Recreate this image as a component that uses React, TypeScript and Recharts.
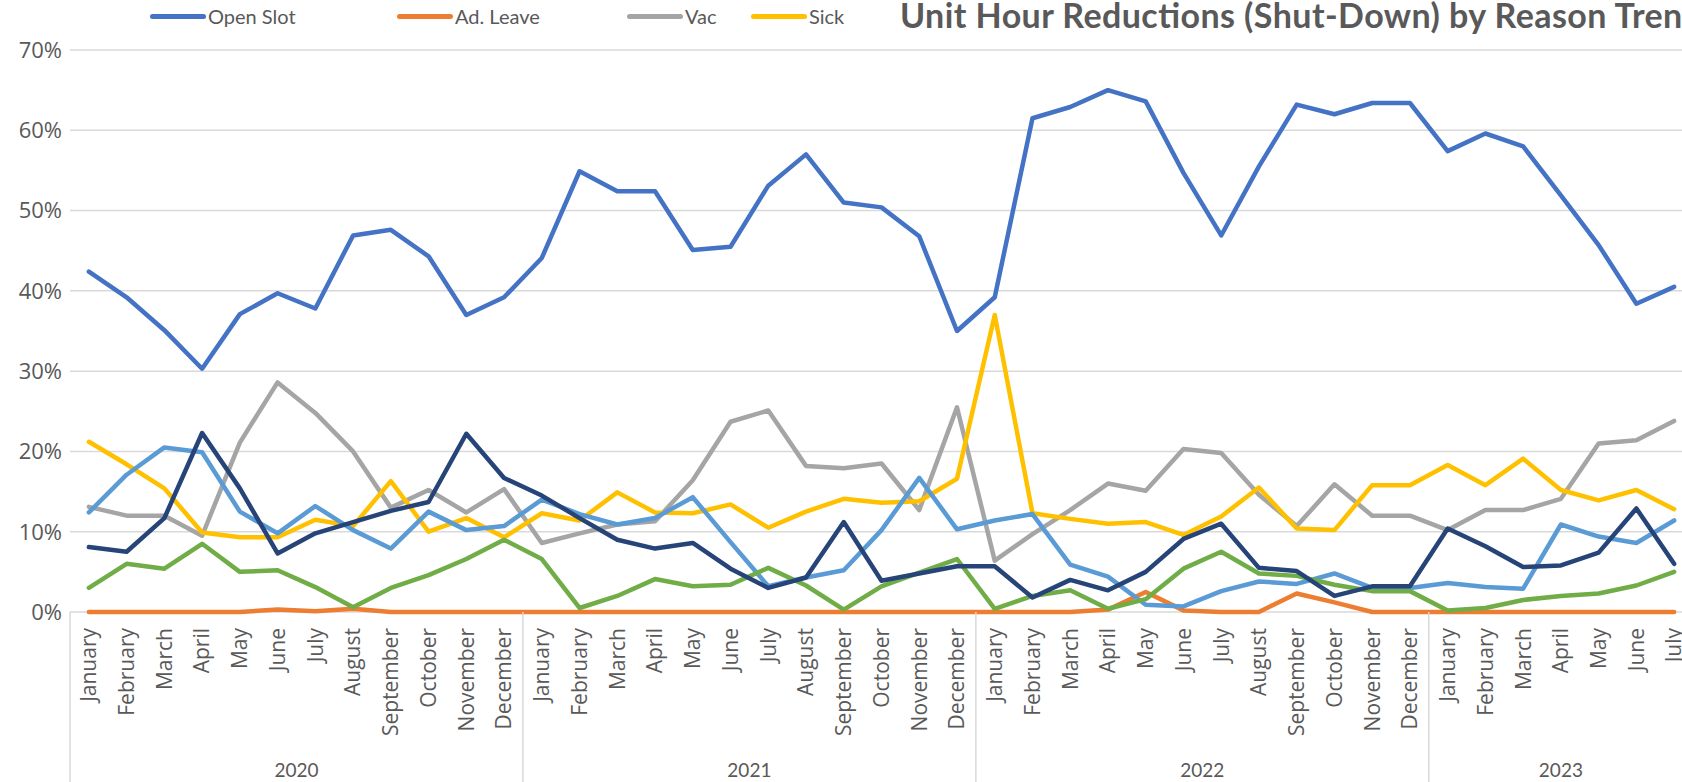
import React from 'react';
import { LineChart, Line, XAxis, YAxis, CartesianGrid } from 'recharts';

const monthNames = [
  'January', 'February', 'March', 'April', 'May', 'June',
  'July', 'August', 'September', 'October', 'November', 'December',
];

// year and how many months of it are in the chart
const years: [string, number][] = [
  ['2020', 12],
  ['2021', 12],
  ['2022', 12],
  ['2023', 7],
];

const yTicks = [0, 10, 20, 30, 40, 50, 60, 70];

// values are percent of unit hours
const openSlot = [
  42.4, 39.2, 35.1, 30.3, 37.1, 39.7, 37.8, 46.9, 47.6, 44.3, 37.0, 39.2,
  44.1, 54.9, 52.4, 52.4, 45.1, 45.5, 53.1, 57.0, 51.0, 50.4, 46.8, 35.0,
  39.2, 61.5, 62.9, 65.0, 63.6, 54.7, 46.9, 55.5, 63.2, 62.0, 63.4, 63.4,
  57.4, 59.6, 58.0, 51.9, 45.7, 38.4, 40.5,
];
const adLeave = [
  0, 0, 0, 0, 0, 0.3, 0.1, 0.4, 0, 0, 0, 0,
  0, 0, 0, 0, 0, 0, 0, 0, 0, 0, 0, 0,
  0, 0, 0, 0.3, 2.5, 0.2, 0, 0, 2.3, 1.2, 0, 0,
  0, 0, 0, 0, 0, 0, 0,
];
const vac = [
  13.1, 12.0, 12.0, 9.5, 21.1, 28.6, 24.8, 20.0, 13.0, 15.2, 12.4, 15.3,
  8.6, 9.8, 10.9, 11.3, 16.4, 23.7, 25.1, 18.2, 17.9, 18.5, 12.7, 25.5,
  6.4, 9.7, 12.7, 16.0, 15.1, 20.3, 19.8, 14.6, 10.7, 15.9, 12.0, 12.0,
  10.2, 12.7, 12.7, 14.1, 21.0, 21.4, 23.8,
];
const sick = [
  21.2, 18.4, 15.4, 9.9, 9.3, 9.3, 11.5, 10.7, 16.3, 10.0, 11.7, 9.3,
  12.3, 11.4, 14.9, 12.4, 12.3, 13.4, 10.5, 12.5, 14.1, 13.6, 13.8, 16.6,
  37.0, 12.3, 11.6, 11.0, 11.2, 9.6, 11.9, 15.5, 10.4, 10.2, 15.8, 15.8,
  18.3, 15.8, 19.1, 15.2, 13.9, 15.2, 12.8,
];
// the last three series sit behind the title in the legend
const series5 = [
  12.4, 17.1, 20.5, 19.9, 12.5, 9.8, 13.2, 10.2, 7.9, 12.5, 10.2, 10.7,
  14.0, 12.2, 10.9, 11.7, 14.3, 8.7, 3.2, 4.3, 5.2, 10.2, 16.7, 10.3,
  11.4, 12.2, 5.9, 4.4, 0.9, 0.7, 2.6, 3.8, 3.5, 4.8, 3.0, 3.0,
  3.6, 3.1, 2.9, 10.9, 9.4, 8.6, 11.4,
];
const series6 = [
  3.0, 6.0, 5.4, 8.5, 5.0, 5.2, 3.1, 0.6, 3.0, 4.6, 6.6, 9.0,
  6.6, 0.5, 2.0, 4.1, 3.2, 3.4, 5.5, 3.3, 0.3, 3.2, 4.9, 6.6,
  0.4, 2.0, 2.7, 0.4, 1.6, 5.4, 7.5, 4.8, 4.5, 3.4, 2.6, 2.6,
  0.2, 0.5, 1.5, 2.0, 2.3, 3.3, 5.0,
];
const series7 = [
  8.1, 7.5, 11.7, 22.3, 15.4, 7.3, 9.8, 11.2, 12.6, 13.7, 22.2, 16.7,
  14.5, 11.7, 9.0, 7.9, 8.6, 5.4, 3.0, 4.3, 11.2, 3.9, 4.8, 5.7,
  5.7, 1.8, 4.0, 2.7, 5.0, 9.1, 11.0, 5.5, 5.1, 2.0, 3.2, 3.2,
  10.4, 8.2, 5.6, 5.8, 7.4, 12.9, 6.0,
];

const seriesList = [
  { key: 'openSlot', name: 'Open Slot', color: '#4472C4', values: openSlot, legendX: 150 },
  { key: 'adLeave', name: 'Ad. Leave', color: '#ED7D31', values: adLeave, legendX: 397 },
  { key: 'vac', name: 'Vac', color: '#A5A5A5', values: vac, legendX: 627 },
  { key: 'sick', name: 'Sick', color: '#FFC000', values: sick, legendX: 751 },
  { key: 's5', name: 's5', color: '#5B9BD5', values: series5, legendX: null },
  { key: 's6', name: 's6', color: '#70AD47', values: series6, legendX: null },
  { key: 's7', name: 's7', color: '#264478', values: series7, legendX: null },
];

const categories: { month: string; year: string }[] = [];
years.forEach(([year, count]) => {
  for (let m = 0; m < count; m++) categories.push({ month: monthNames[m], year });
});

const data = categories.map((c, i) => {
  const row: { [k: string]: string | number } = { name: `${c.month} ${c.year}` };
  seriesList.forEach((s) => {
    row[s.key] = s.values[i];
  });
  return row;
});

const TEXT = '#595959';
const GRID = '#D9D9D9';
const CHART_W = 1693;
const Y_W = 70;
const AXIS_GAP = 16;
const AXIS_HEIGHT = 170;
const HALF_BAND = (CHART_W - Y_W) / categories.length / 2;

const MonthTick = (props: any) => {
  const { x, y, payload } = props;
  const i = payload.index;
  const axisY = y - AXIS_GAP;
  const cat = categories[i];
  const parts: React.ReactNode[] = [];

  if (cat.month === 'January') {
    const left = x - HALF_BAND;
    const count = years.find((yy) => yy[0] === cat.year)![1];
    parts.push(
      <line key="sep" x1={left} x2={left} y1={axisY} y2={axisY + AXIS_HEIGHT} stroke={GRID} strokeWidth={1.5} />
    );
    parts.push(
      <text
        key="year"
        x={left + count * HALF_BAND}
        y={axisY + 157}
        textAnchor="middle"
        dominantBaseline="central"
        fill={TEXT}
        fontSize={19}
        fontFamily="Lato, sans-serif"
      >
        {cat.year}
      </text>
    );
  }

  parts.push(
    <text
      key="m"
      transform={`translate(${x},${y}) rotate(-90)`}
      textAnchor="end"
      dy="0.35em"
      fill={TEXT}
      fontSize={21}
      fontFamily="'Open Sans', sans-serif"
    >
      {cat.month}
    </text>
  );
  return <g>{parts}</g>;
};

const App = () => {
  return (
    <div style={{ position: 'absolute', left: 0, top: 0, width: 1682, height: 782, overflow: 'hidden', background: '#fff' }}>
      <LineChart width={CHART_W} height={782} data={data} margin={{ top: 50, right: 0, bottom: 0, left: 0 }}>
        {/* the grid's 0% line doubles as the axis line, so it stays under the series */}
        <CartesianGrid vertical={false} stroke={GRID} strokeWidth={1.5} />
        <XAxis
          dataKey="name"
          scale="band"
          interval={0}
          height={AXIS_HEIGHT}
          tickLine={false}
          tickSize={0}
          tickMargin={AXIS_GAP}
          axisLine={false}
          tick={<MonthTick />}
        />
        <YAxis
          width={Y_W}
          domain={[0, 70]}
          ticks={yTicks}
          interval={0}
          axisLine={false}
          tickLine={false}
          tickSize={0}
          tickMargin={8}
          tickFormatter={(v: number) => `${v}%`}
          tick={{ fill: TEXT, fontSize: 22, fontFamily: "'Open Sans', sans-serif" }}
        />
        {seriesList.map((s) => (
          <Line
            key={s.key}
            type="linear"
            dataKey={s.key}
            name={s.name}
            stroke={s.color}
            strokeWidth={4.5}
            strokeLinejoin="round"
            strokeLinecap="round"
            dot={false}
            activeDot={false}
            isAnimationActive={false}
          />
        ))}
      </LineChart>

      {/* legend: only the four entries the title does not cover */}
      {seriesList.filter((s) => s.legendX !== null).map((s) => (
        <div
          key={s.key}
          style={{
            position: 'absolute', left: s.legendX as number, top: 0, height: 32, display: 'flex', alignItems: 'center',
            fontFamily: 'Lato, sans-serif', fontSize: 20, color: TEXT, whiteSpace: 'nowrap',
          }}
        >
          <span style={{ display: 'inline-block', width: 56, height: 5, borderRadius: 3, background: s.color, marginRight: 2 }} />
          <span>{s.name}</span>
        </div>
      ))}

      <svg width={1682} height={60} style={{ position: 'absolute', left: 0, top: 0, pointerEvents: 'none' }}>
        <text x={900} y={28} fontFamily="Lato, sans-serif" fontWeight={700} fontSize={34} fill={TEXT} textLength={802}>
          Unit Hour Reductions (Shut-Down) by Reason Trend
        </text>
      </svg>
    </div>
  );
};

export default App;
